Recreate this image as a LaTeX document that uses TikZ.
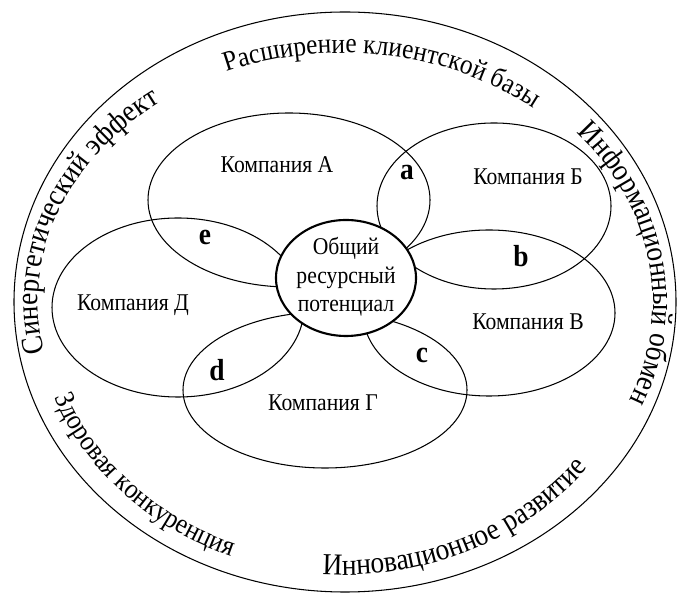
\documentclass[tikz,border=0pt]{standalone}
\usepackage{fontspec}
\setmainfont[FakeStretch=0.9]{Liberation Serif}
\usepackage{tikz}
\usetikzlibrary{decorations.text}

\tikzset{
  petal/.style={line width=0.9pt},
  kname/.style={font=\fontsize{20.5}{24}\selectfont},
  lens/.style={font=\fontsize{26}{30}\selectfont\bfseries},
  ringtext/.style={decorate, decoration={text along path, text align=center, text={|\ringfont|#1}}},
  bigringtext/.style={decorate, decoration={text along path, text align=center, text={|\bigringfont|#1}}}
}
\newcommand{\ringfont}{\fontsize{24}{28}\selectfont}
\newcommand{\bigringfont}{\fontsize{26}{30}\selectfont}

\begin{document}
\begin{tikzpicture}[x=0.03cm,y=0.03cm]
\useasboundingbox (0,0) rectangle (683,595);

% outer ring
\draw[petal] (345,293) ellipse [x radius=331, y radius=290];

% the five companies
\draw[petal] (289,395) ellipse [x radius=141, y radius=87];
\draw[petal] (494,389) ellipse [x radius=117, y radius=83];
\draw[petal] (489,282) ellipse [x radius=126, y radius=83];
\draw[petal] (325,205) ellipse [x radius=142, y radius=78];
\draw[petal] (178,287.5) ellipse [x radius=126, y radius=89.5];

% common core
\filldraw[line width=1.8pt, fill=white] (346,317) ellipse [x radius=70, y radius=58];
\node[align=center, font=\fontsize{20.5}{24.5}\selectfont] (core) at (346,318) {Общий\\ресурсный\\потенциал};

\node[kname] (compA) at (277,430) {Компания А};
\node[kname] (compB) at (528,418) {Компания Б};
\node[kname] (compV) at (528,273) {Компания В};
\node[kname] (compG) at (323,192) {Компания Г};
\node[kname] (compD) at (133,290) {Компания Д};

\node[lens] (a) at (407,422) {a};
\node[lens] (b) at (521,339) {b};
\node[lens] (c) at (422,240) {c};
\node[lens] (d) at (217,225) {d};
\node[lens] (e) at (205,358) {e};

% texts along the ring
\path[ringtext={Расширение клиентской базы}] (343,293) ++(141:303 and 249) arc[start angle=141, end angle=21, x radius=303, y radius=249];
\path[bigringtext={Информационный обмен}] (343,293) ++(52:310 and 258) arc[start angle=52, end angle=-34, x radius=310, y radius=258];
\path[bigringtext={Синергетический эффект}] (343,293) ++(204:305 and 249) arc[start angle=204, end angle=116, x radius=305, y radius=249];
\path[ringtext={Здоровая конкуренция}] (343,293) ++(188:308 and 273) arc[start angle=188, end angle=260, x radius=308, y radius=273];
\path[bigringtext={Инновационное развитие}] (343,293) ++(252:308 and 273) arc[start angle=252, end angle=338, x radius=308, y radius=273];
\end{tikzpicture}
\end{document}
